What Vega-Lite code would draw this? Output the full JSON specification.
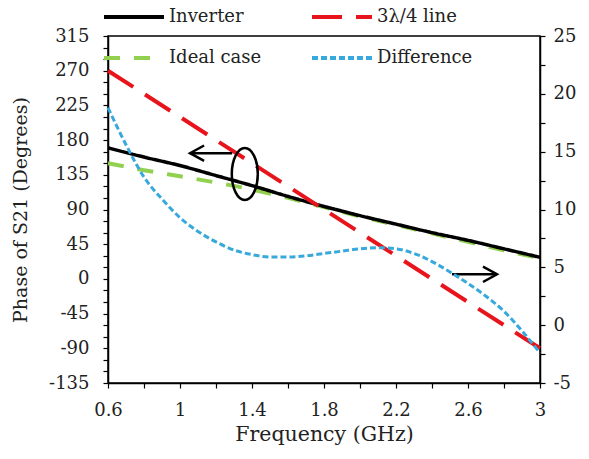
{
  "$schema": "https://vega.github.io/schema/vega-lite/v6.json",
  "width": 432,
  "height": 347,
  "autosize": {"type": "none"},
  "padding": {"left": 108, "top": 36, "right": 49, "bottom": 76},
  "background": "white",
  "config": {
    "font": "DejaVu Serif",
    "view": {"stroke": "#000", "strokeWidth": 1.5},
    "axis": {
      "grid": false,
      "domainColor": "#000",
      "domainWidth": 1.5,
      "tickColor": "#000",
      "tickWidth": 1.2,
      "tickSize": 5,
      "tickCount": 100,
      "labelFont": "DejaVu Serif",
      "labelFontSize": 18,
      "labelColor": "#222",
      "labelOverlap": false,
      "labelFlush": false,
      "titleFont": "DejaVu Serif",
      "titleFontWeight": "normal",
      "titleColor": "#222"
    },
    "legend": {
      "orient": "none",
      "direction": "horizontal",
      "legendX": -6,
      "legendY": -51,
      "columns": 2,
      "symbolType": "stroke",
      "symbolSize": 3600,
      "symbolStrokeWidth": 4,
      "labelFont": "DejaVu Serif",
      "labelFontSize": 18,
      "labelColor": "#222",
      "labelOffset": 3,
      "rowPadding": -20,
      "columnPadding": 42
    }
  },
  "datasets": {
    "phase": [
      {"f": 0.6, "series": "Ideal case", "phase": 150},
      {"f": 0.8, "series": "Ideal case", "phase": 141},
      {"f": 1.0, "series": "Ideal case", "phase": 133},
      {"f": 1.2, "series": "Ideal case", "phase": 125},
      {"f": 1.4, "series": "Ideal case", "phase": 116},
      {"f": 1.6, "series": "Ideal case", "phase": 105},
      {"f": 1.8, "series": "Ideal case", "phase": 93},
      {"f": 2.0, "series": "Ideal case", "phase": 81},
      {"f": 2.2, "series": "Ideal case", "phase": 70},
      {"f": 2.4, "series": "Ideal case", "phase": 59},
      {"f": 2.6, "series": "Ideal case", "phase": 48},
      {"f": 2.8, "series": "Ideal case", "phase": 37},
      {"f": 3.0, "series": "Ideal case", "phase": 27},
      {"f": 0.6, "series": "Inverter", "phase": 170},
      {"f": 0.8, "series": "Inverter", "phase": 158},
      {"f": 1.0, "series": "Inverter", "phase": 147},
      {"f": 1.2, "series": "Inverter", "phase": 134},
      {"f": 1.4, "series": "Inverter", "phase": 121},
      {"f": 1.6, "series": "Inverter", "phase": 107},
      {"f": 1.8, "series": "Inverter", "phase": 94},
      {"f": 2.0, "series": "Inverter", "phase": 82},
      {"f": 2.2, "series": "Inverter", "phase": 71},
      {"f": 2.4, "series": "Inverter", "phase": 60},
      {"f": 2.6, "series": "Inverter", "phase": 50},
      {"f": 2.8, "series": "Inverter", "phase": 39},
      {"f": 3.0, "series": "Inverter", "phase": 28},
      {"f": 0.6, "series": "3λ/4 line", "phase": 270},
      {"f": 1.0, "series": "3λ/4 line", "phase": 210},
      {"f": 1.4, "series": "3λ/4 line", "phase": 150},
      {"f": 1.8, "series": "3λ/4 line", "phase": 90},
      {"f": 2.2, "series": "3λ/4 line", "phase": 30},
      {"f": 2.6, "series": "3λ/4 line", "phase": -30},
      {"f": 3.0, "series": "3λ/4 line", "phase": -90}
    ],
    "difference": [
      {"f": 0.6, "series": "Difference", "diff": 18.8},
      {"f": 0.7, "series": "Difference", "diff": 15.6},
      {"f": 0.8, "series": "Difference", "diff": 12.8},
      {"f": 0.9, "series": "Difference", "diff": 10.9},
      {"f": 1.0, "series": "Difference", "diff": 9.3},
      {"f": 1.1, "series": "Difference", "diff": 8.1},
      {"f": 1.2, "series": "Difference", "diff": 7.2},
      {"f": 1.3, "series": "Difference", "diff": 6.5},
      {"f": 1.4, "series": "Difference", "diff": 6.1},
      {"f": 1.5, "series": "Difference", "diff": 5.9},
      {"f": 1.6, "series": "Difference", "diff": 5.9},
      {"f": 1.7, "series": "Difference", "diff": 6.0},
      {"f": 1.8, "series": "Difference", "diff": 6.2},
      {"f": 1.9, "series": "Difference", "diff": 6.4},
      {"f": 2.0, "series": "Difference", "diff": 6.6},
      {"f": 2.1, "series": "Difference", "diff": 6.7},
      {"f": 2.2, "series": "Difference", "diff": 6.6},
      {"f": 2.3, "series": "Difference", "diff": 6.2},
      {"f": 2.4, "series": "Difference", "diff": 5.5},
      {"f": 2.5, "series": "Difference", "diff": 4.6},
      {"f": 2.6, "series": "Difference", "diff": 3.6},
      {"f": 2.7, "series": "Difference", "diff": 2.5},
      {"f": 2.8, "series": "Difference", "diff": 1.2},
      {"f": 2.9, "series": "Difference", "diff": -0.5},
      {"f": 3.0, "series": "Difference", "diff": -2.4}
    ],
    "arrows": [
      {"from": 1.29, "to": 1.056, "phase": 163, "angle": 0},
      {"from": 2.511, "to": 2.761, "phase": 6, "angle": 180}
    ],
    "marker": [
      {"f": 1.36, "phase": 136}
    ]
  },
  "layer": [
    {
      "encoding": {
        "x": {
          "type": "quantitative",
          "scale": {"domain": [0.6, 3], "nice": false, "zero": false},
          "axis": {
            "title": "Frequency (GHz)",
            "titleFontSize": 20.5,
            "values": [0.6, 0.8, 1, 1.2, 1.4, 1.6, 1.8, 2, 2.2, 2.4, 2.6, 2.8, 3],
            "labelExpr": "abs((datum.value - 0.6) / 0.4 - round((datum.value - 0.6) / 0.4)) < 0.01 ? '' + datum.value : ''",
            "labelPadding": 13,
            "titlePadding": 5
          }
        }
      },
      "layer": [
        {
          "data": {"name": "phase"},
          "transform": [{"filter": "datum.series === 'Ideal case'"}],
          "mark": {"type": "line", "strokeWidth": 4, "interpolate": "monotone"},
          "encoding": {
            "x": {"field": "f", "type": "quantitative"},
            "y": {
              "field": "phase",
              "type": "quantitative",
              "scale": {"domain": [-135, 315], "nice": false, "zero": false},
              "axis": {
                "orient": "left",
                "title": "Phase of S21 (Degrees)",
                "titleFontSize": 19,
                "values": [-135, -120, -105, -90, -75, -60, -45, -30, -15, 0, 15, 30, 45, 60, 75, 90, 105, 120, 135, 150, 165, 180, 195, 210, 225, 240, 255, 270, 285, 300, 315],
                "labelExpr": "datum.value % 45 === 0 ? '' + datum.value : ''",
                "labelPadding": 14,
                "titlePadding": 18
              }
            },
            "color": {
              "field": "series",
              "type": "nominal",
              "scale": {
                "domain": ["Inverter", "3λ/4 line", "Ideal case", "Difference"],
                "range": ["#000000", "#e8141c", "#92d050", "#38a9dc"]
              },
              "legend": {"title": null}
            },
            "strokeDash": {
              "field": "series",
              "type": "nominal",
              "scale": {
                "domain": ["Inverter", "3λ/4 line", "Ideal case", "Difference"],
                "range": [[1, 0], [30, 14], [16, 14], [6, 3]]
              },
              "legend": {"title": null}
            }
          }
        },
        {
          "data": {"name": "phase"},
          "transform": [{"filter": "datum.series === 'Inverter'"}],
          "mark": {"type": "line", "strokeWidth": 3.5, "interpolate": "monotone"},
          "encoding": {
            "x": {"field": "f", "type": "quantitative"},
            "y": {"field": "phase", "type": "quantitative"},
            "color": {"field": "series", "type": "nominal"},
            "strokeDash": {"field": "series", "type": "nominal"}
          }
        },
        {
          "data": {"name": "phase"},
          "transform": [{"filter": "datum.series === '3λ/4 line'"}],
          "mark": {"type": "line", "strokeWidth": 4},
          "encoding": {
            "x": {"field": "f", "type": "quantitative"},
            "y": {"field": "phase", "type": "quantitative"},
            "color": {"field": "series", "type": "nominal"},
            "strokeDash": {"field": "series", "type": "nominal"}
          }
        },
        {
          "data": {"name": "arrows"},
          "mark": {"type": "rule", "color": "#000", "strokeWidth": 2.5},
          "encoding": {
            "x": {"field": "from", "type": "quantitative"},
            "x2": {"field": "to"},
            "y": {"field": "phase", "type": "quantitative"}
          }
        },
        {
          "data": {"name": "arrows"},
          "mark": {
            "type": "point",
            "shape": "M1,-0.55 L0,0 L1,0.55",
            "size": 784,
            "filled": false,
            "color": "#000",
            "strokeWidth": 2.5,
            "opacity": 1
          },
          "encoding": {
            "x": {"field": "to", "type": "quantitative"},
            "y": {"field": "phase", "type": "quantitative"},
            "angle": {"field": "angle", "type": "quantitative", "scale": null}
          }
        },
        {
          "data": {"name": "marker"},
          "mark": {
            "type": "point",
            "shape": "M0,-1 C0.276,-1 0.5,-0.552 0.5,0 C0.5,0.552 0.276,1 0,1 C-0.276,1 -0.5,0.552 -0.5,0 C-0.5,-0.552 -0.276,-1 0,-1 Z",
            "size": 2704,
            "filled": false,
            "color": "#000",
            "strokeWidth": 2.5,
            "opacity": 1
          },
          "encoding": {
            "x": {"field": "f", "type": "quantitative"},
            "y": {"field": "phase", "type": "quantitative"}
          }
        }
      ]
    },
    {
      "data": {"name": "difference"},
      "mark": {"type": "line", "strokeWidth": 3, "interpolate": "monotone"},
      "encoding": {
        "x": {"field": "f", "type": "quantitative"},
        "y": {
          "field": "diff",
          "type": "quantitative",
          "scale": {"domain": [-5, 25], "nice": false, "zero": false},
          "axis": {
            "orient": "right",
            "title": null,
            "values": [-5, -2.5, 0, 2.5, 5, 7.5, 10, 12.5, 15, 17.5, 20, 22.5, 25],
            "labelExpr": "datum.value % 5 === 0 ? '' + datum.value : ''",
            "labelPadding": 8
          }
        },
        "color": {"field": "series", "type": "nominal"},
        "strokeDash": {"field": "series", "type": "nominal"}
      }
    }
  ],
  "resolve": {"scale": {"y": "independent"}}
}
